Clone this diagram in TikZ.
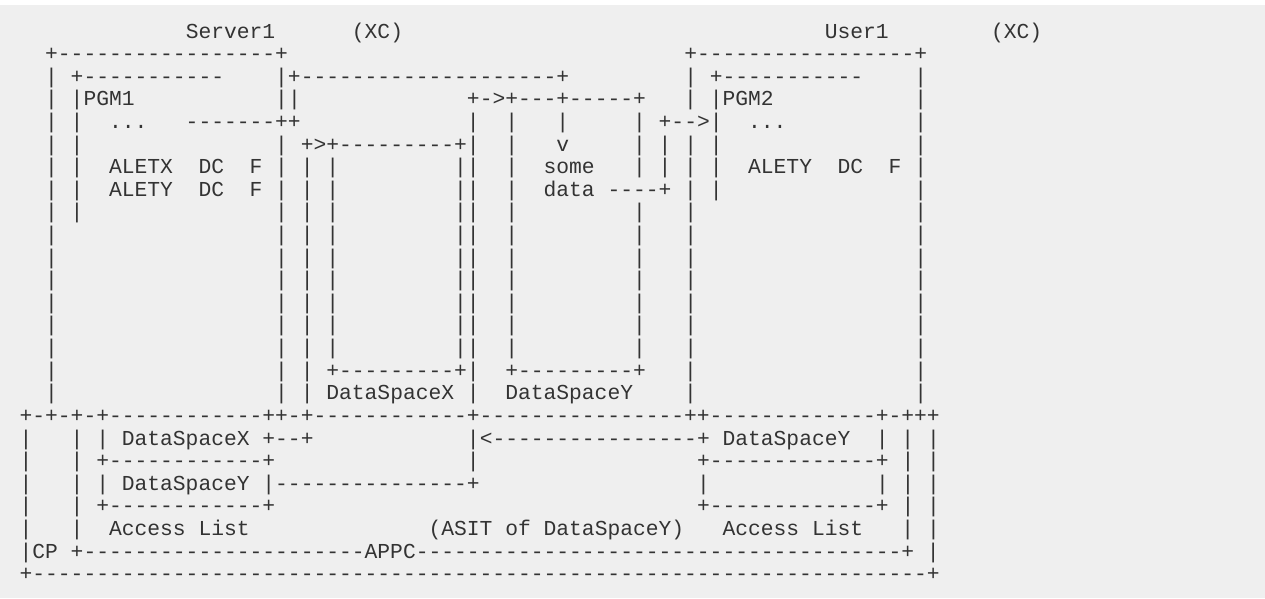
\documentclass[tikz,border=0pt]{standalone}
\usepackage{tikz}
\usepackage{fontspec}
\setmonofont{Liberation Mono}

\definecolor{ink}{RGB}{51,51,51}
\definecolor{paper}{RGB}{239,239,239}

% rows of the listing, spaces kept as they stand
\begingroup
\catcode`\ =\active%
\gdef {\ }%
\gdef\rA{             Server1      (XC)                                 User1        (XC)}%
\gdef\rB{  +-----------------+                               +-----------------+}%
\gdef\rC{  | +-----------    |+--------------------+         | +-----------    |}%
\gdef\rD{  | |PGM1           ||             +->+---+-----+   | |PGM2           |}%
\gdef\rE{  | |  ...   -------++             |  |   |     | +-->|  ...          |}%
\gdef\rF{  | |               | +>+---------+|  |   v     | | | |               |}%
\gdef\rG{  | |  ALETX  DC  F | | |         ||  |  some   | | | |  ALETY  DC  F |}%
\gdef\rH{  | |  ALETY  DC  F | | |         ||  |  data ----+ | |               |}%
\gdef\rI{  | |               | | |         ||  |         |   |                 |}%
\gdef\rJ{  |                 | | |         ||  |         |   |                 |}%
\gdef\rP{  |                 | | +---------+|  +---------+   |                 |}%
\gdef\rQ{  |                 | | DataSpaceX |  DataSpaceY    |                 |}%
\gdef\rR{+-+-+-+------------++-+------------+----------------++-------------+-+++}%
\gdef\rS{|   | | DataSpaceX +--+            |<----------------+ DataSpaceY  | | |}%
\gdef\rT{|   | +------------+               |                 +-------------+ | |}%
\gdef\rU{|   | | DataSpaceY |---------------+                 |             | | |}%
\gdef\rV{|   | +------------+                                 +-------------+ | |}%
\gdef\rW{|   |  Access List              (ASIT of DataSpaceY)   Access List   | |}%
\gdef\rX{|CP +----------------------APPC--------------------------------------+ |}%
\gdef\rY{+----------------------------------------------------------------------+}%
\endgroup

\begin{document}
\begin{tikzpicture}[%
  x=1pt, y=1pt,
  row/.style = {anchor=base west, inner sep=0pt, outer sep=0pt,
    text=ink, font=\ttfamily\fontsize{21.3}{22.6}\selectfont},
]
  \fill[white] (0,0) rectangle (1265,-598);
  \fill[paper] (0,-5) rectangle (1265,-598);
  \useasboundingbox (0,0) rectangle (1265,-598);

  \node[row] (R1)  at (19.6,-38.0)  {\rA};
  \node[row] (R2)  at (19.6,-60.6)  {\rB};
  \node[row] (R3)  at (19.6,-83.2)  {\rC};
  \node[row] (R4)  at (19.6,-105.8) {\rD};
  \node[row] (R5)  at (19.6,-128.4) {\rE};
  \node[row] (R6)  at (19.6,-151.1) {\rF};
  \node[row] (R7)  at (19.6,-173.7) {\rG};
  \node[row] (R8)  at (19.6,-196.3) {\rH};
  \node[row] (R9)  at (19.6,-218.9) {\rI};
  \node[row] (R10) at (19.6,-241.5) {\rJ};
  \node[row] (R11) at (19.6,-264.1) {\rJ};
  \node[row] (R12) at (19.6,-286.7) {\rJ};
  \node[row] (R13) at (19.6,-309.3) {\rJ};
  \node[row] (R14) at (19.6,-331.9) {\rJ};
  \node[row] (R15) at (19.6,-354.5) {\rJ};
  \node[row] (R16) at (19.6,-377.2) {\rP};
  \node[row] (R17) at (19.6,-399.8) {\rQ};
  \node[row] (R18) at (19.6,-422.4) {\rR};
  \node[row] (R19) at (19.6,-445.0) {\rS};
  \node[row] (R20) at (19.6,-467.6) {\rT};
  \node[row] (R21) at (19.6,-490.2) {\rU};
  \node[row] (R22) at (19.6,-512.8) {\rV};
  \node[row] (R23) at (19.6,-535.4) {\rW};
  \node[row] (R24) at (19.6,-558.0) {\rX};
  \node[row] (R25) at (19.6,-580.6) {\rY};

\end{tikzpicture}
\end{document}
